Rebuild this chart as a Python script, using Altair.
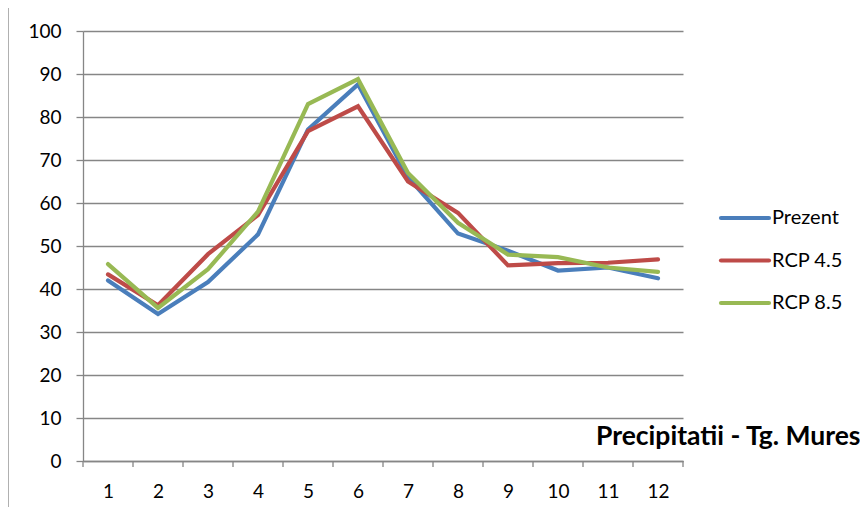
import altair as alt
import pandas as pd

months = list(range(1, 13))
series_names = ["Prezent", "RCP 4.5", "RCP 8.5"]
colors = ["#4A7EBB", "#BE4B48", "#98B954"]
prezent = [42.0, 34.2, 41.6, 52.7, 77.1, 87.6, 66.0, 52.9, 48.9, 44.3, 45.0, 42.5]
rcp45 = [43.4, 36.2, 48.1, 57.2, 76.7, 82.5, 65.0, 57.7, 45.5, 46.0, 46.1, 46.9]
rcp85 = [45.8, 35.6, 44.6, 58.0, 83.0, 88.8, 67.0, 55.4, 48.0, 47.4, 45.0, 44.0]
y_ticks = list(range(0, 101, 10))
tick_bounds = [m - 0.5 for m in months] + [12.5]
title_text = "Precipitatii - Tg. Mures"

FONT = "Lato"
W, H = 600, 430

rows = []
for name, vals in zip(series_names, [prezent, rcp45, rcp85]):
    for m, v in zip(months, vals):
        rows.append({"luna": m, "valoare": v, "serie": name})
df = pd.DataFrame(rows)

xscale = alt.Scale(domain=[0.5, 12.5], nice=False, zero=False)
yscale = alt.Scale(domain=[0, 100], nice=False)
cscale = alt.Scale(domain=series_names, range=colors)

lines = alt.Chart(df).mark_line(strokeWidth=4.2, strokeJoin="miter", strokeCap="round").encode(
    x=alt.X("luna:Q", scale=xscale,
            axis=alt.Axis(values=months, title=None, grid=False, ticks=False,
                          labelFontSize=19, labelFont=FONT, labelColor="#000000",
                          labelPadding=21, domainColor="#868686", domainWidth=1.3)),
    y=alt.Y("valoare:Q", scale=yscale,
            axis=alt.Axis(values=y_ticks, title=None, grid=True, gridColor="#868686",
                          gridWidth=1.3, tickColor="#868686", tickSize=7, tickWidth=1.3,
                          labelFontSize=19, labelFont=FONT, labelColor="#000000",
                          labelPadding=15, domainColor="#868686", domainWidth=1.3)),
    color=alt.Color("serie:N", scale=cscale, legend=None),
    detail="serie:N",
)

ticks_df = pd.DataFrame({"b": tick_bounds})
xticks = alt.Chart(ticks_df).mark_rule(color="#868686", strokeWidth=1.3).encode(
    x=alt.X("b:Q", scale=xscale),
    y=alt.value(H),
    y2=alt.value(H + 6),
)

layers = [lines, xticks]
for i, (name, col) in enumerate(zip(series_names, colors)):
    ypos = 187 + 42.5 * i
    one = pd.DataFrame({"serie": [name]})
    layers.append(alt.Chart(one).mark_rule(strokeWidth=4.2, strokeCap="round", color=col).encode(
        x=alt.value(638), x2=alt.value(686), y=alt.value(ypos)))
    layers.append(alt.Chart(one).mark_text(align="left", baseline="middle", fontSize=20,
                                           font=FONT, color="#000000").encode(
        x=alt.value(689), y=alt.value(ypos), text="serie:N"))

title_df = pd.DataFrame({"t": [title_text]})
layers.append(alt.Chart(title_df).mark_text(align="left", baseline="middle", fontSize=26.5,
                                             fontWeight="bold", font=FONT, color="#000000").encode(
    x=alt.value(513), y=alt.value(406), text="t:N"))

layers.append(alt.Chart(title_df).mark_rule(color="#868686", strokeWidth=1.3).encode(
    x=alt.value(-75), x2=alt.value(790), y=alt.value(-27)))
layers.append(alt.Chart(title_df).mark_rule(color="#868686", strokeWidth=1.3).encode(
    x=alt.value(-75), y=alt.value(-27), y2=alt.value(490)))

chart = alt.layer(*layers).properties(
    width=W, height=H,
    padding={"left": 75, "top": 23, "right": 177, "bottom": 46},
    autosize=alt.AutoSizeParams(type="none"),
).configure_view(strokeWidth=0)

chart.save("out.html", embed_options={"renderer": "svg", "actions": False})
